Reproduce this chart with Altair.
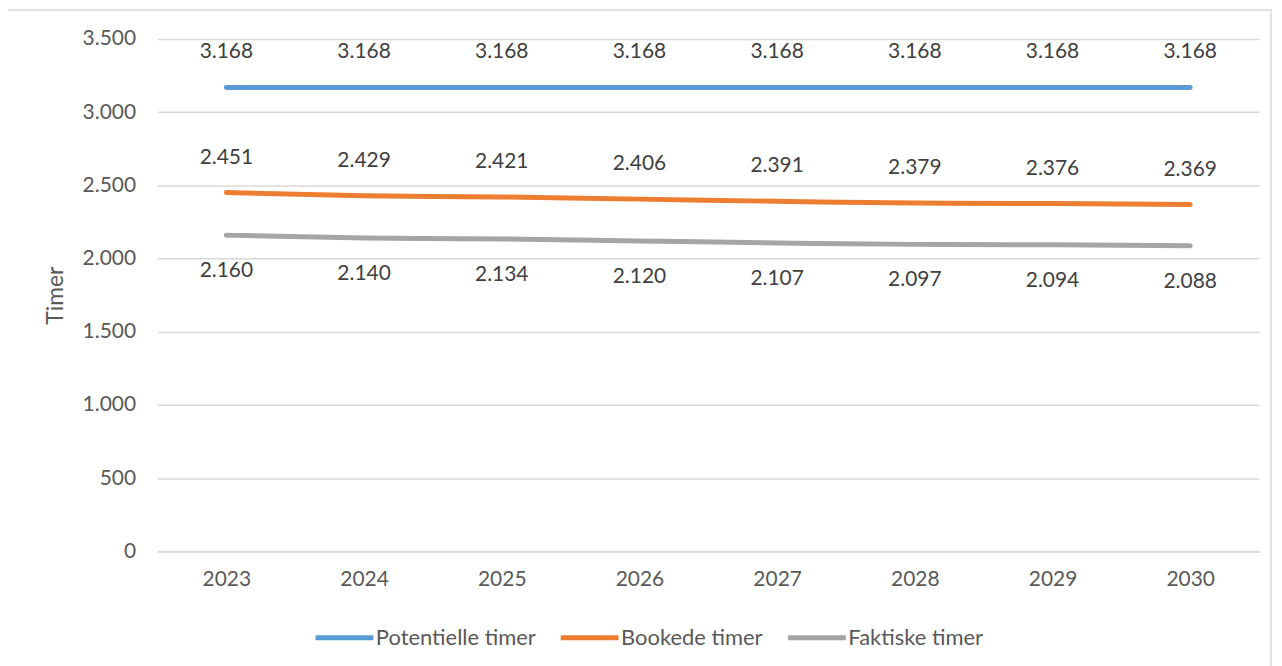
import altair as alt
import pandas as pd

years = ["2023", "2024", "2025", "2026", "2027", "2028", "2029", "2030"]
series = ["Potentielle timer", "Bookede timer", "Faktiske timer"]
potentielle = [3168, 3168, 3168, 3168, 3168, 3168, 3168, 3168]
bookede = [2451, 2429, 2421, 2406, 2391, 2379, 2376, 2369]
faktiske = [2160, 2140, 2134, 2120, 2107, 2097, 2094, 2088]
colors = ["#5B9BD5", "#ED7D31", "#A5A5A5"]
label_dy = [-36, -35, 36]
y_ticks = [0, 500, 1000, 1500, 2000, 2500, 3000, 3500]

rows = []
for s, vals in zip(series, [potentielle, bookede, faktiske]):
    for yr, v in zip(years, vals):
        rows.append({"year": yr, "series": s, "value": v})
df = pd.DataFrame(rows)

FONT = "Lato"
LBL = "#595959"

x = alt.X(
    "year:N", sort=years,
    scale=alt.Scale(type="point", padding=0.5),
    axis=alt.Axis(title=None, labelAngle=0, ticks=False, domainColor="#d9d9d9",
                  domainWidth=2, labelPadding=17, labelFontSize=21, labelColor=LBL,
                  labelFont=FONT, grid=False),
)
y = alt.Y(
    "value:Q",
    scale=alt.Scale(domain=[0, 3500], nice=False),
    axis=alt.Axis(values=y_ticks, title="Timer", grid=True, gridColor="#d9d9d9",
                  gridWidth=1.5, domain=False, ticks=False, labelPadding=22,
                  labelFontSize=21, labelColor=LBL, labelFont=FONT,
                  labelExpr="replace(format(datum.value, ','), ',', '.')",
                  titleX=-102, titleY=257, titleAngle=270, titleAlign="center",
                  titleBaseline="middle", titleFontSize=23, titleFontWeight="normal",
                  titleColor=LBL, titleFont=FONT),
)

base = alt.Chart(df)

lines = base.mark_line(strokeWidth=5, strokeCap="round", interpolate="monotone").encode(
    x=x, y=y,
    color=alt.Color(
        "series:N", sort=series,
        scale=alt.Scale(domain=series, range=colors),
        legend=alt.Legend(orient="none", legendX=156, legendY=569, direction="horizontal",
                          title=None, symbolType="stroke", symbolSize=3364,
                          symbolStrokeWidth=5, labelFontSize=22, labelFont=FONT,
                          labelColor=LBL, columnPadding=14, labelOffset=0,
                          labelLimit=400),
    ),
)

texts = []
for s, dy in zip(series, label_dy):
    t = base.transform_filter(alt.datum.series == s).transform_calculate(
        lbl="replace(format(datum.value, ','), ',', '.')"
    ).mark_text(dy=dy, fontSize=21, font=FONT, color="#404040").encode(
        x=x, y=y, text="lbl:N"
    )
    texts.append(t)

border = alt.Chart(pd.DataFrame({"a": [0]})).mark_rect(
    fillOpacity=0, stroke="#d9d9d9", strokeWidth=1.5
).encode(
    x=alt.value(-151), x2=alt.value(1117), y=alt.value(-29), y2=alt.value(700)
)

chart = alt.layer(border, lines, *texts).properties(
    width=1105, height=514,
    autosize=alt.AutoSizeParams(type="none"),
    padding={"left": 150, "top": 30, "right": 15, "bottom": 136},
).configure_view(strokeWidth=0)

chart.save("out.html", embed_options={"renderer": "svg", "actions": False})
